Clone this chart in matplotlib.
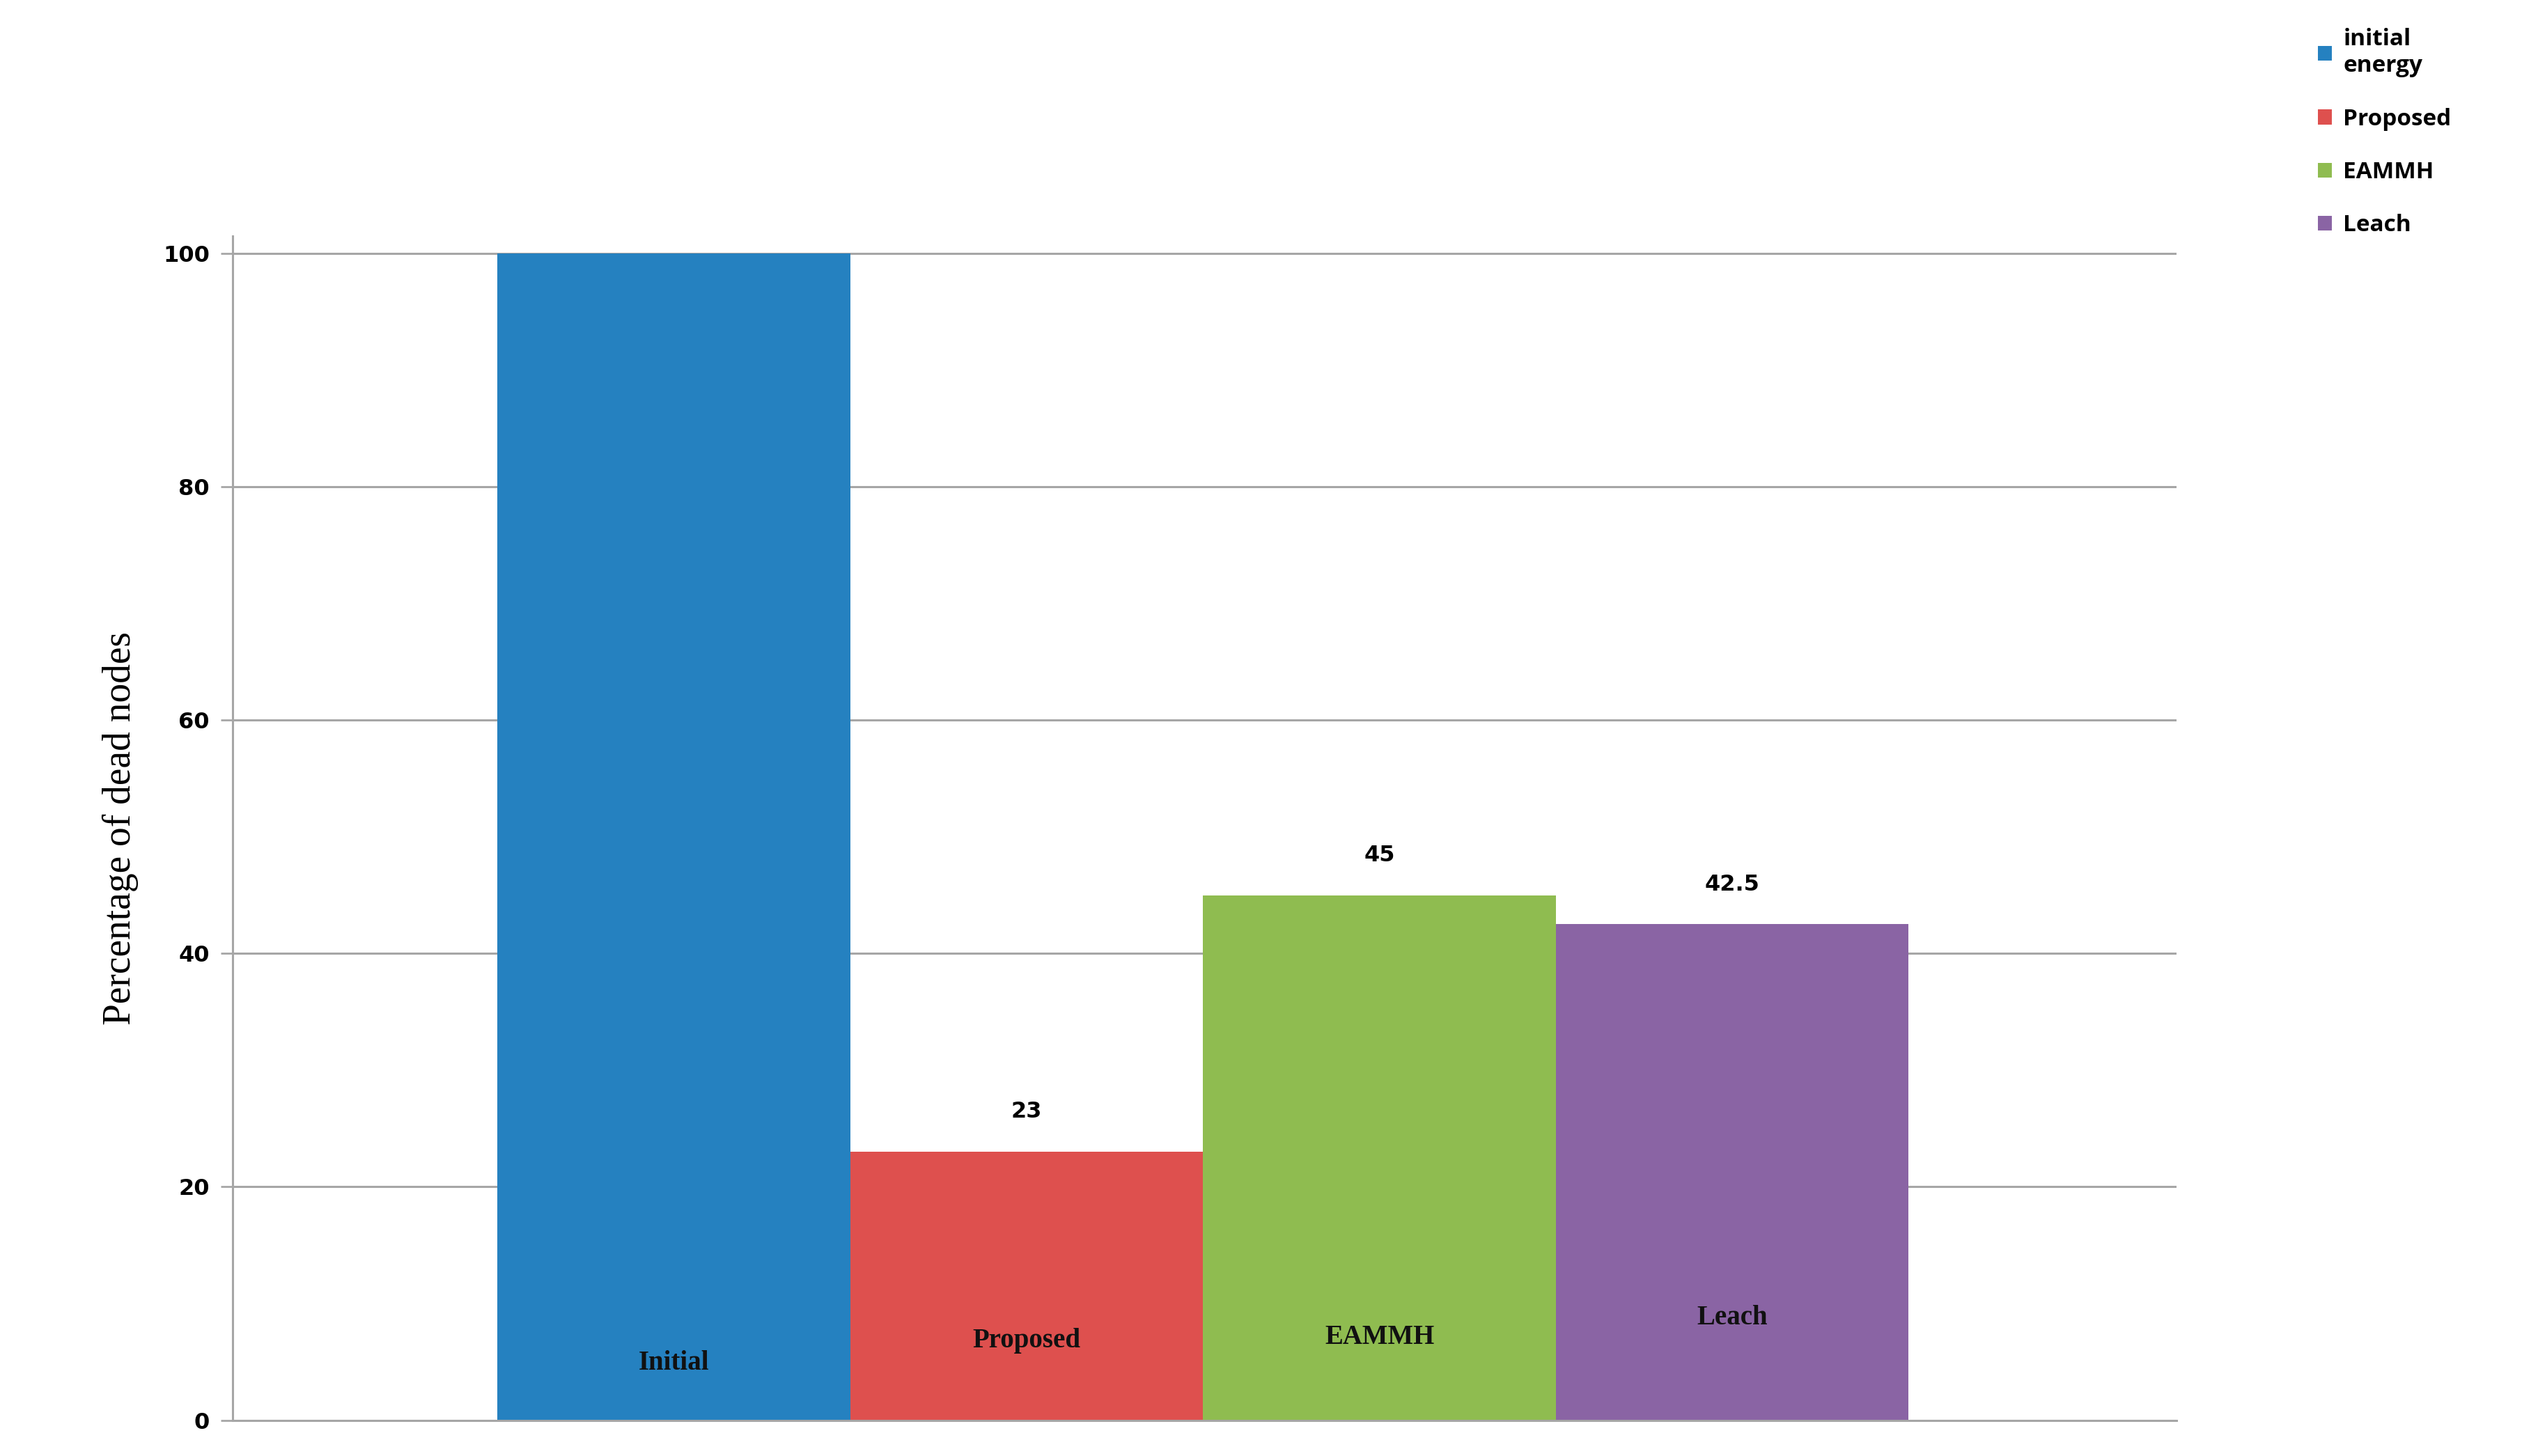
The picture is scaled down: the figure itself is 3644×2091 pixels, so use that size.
import matplotlib
matplotlib.use("Agg")
import matplotlib.pyplot as plt
from matplotlib.patches import Patch

categories = ["Initial", "Proposed", "EAMMH", "Leach"]
values = [100, 23, 45, 42.5]
value_labels = [None, "23", "45", "42.5"]
legend_names = ["initial\nenergy", "Proposed", "EAMMH", "Leach"]
colors = ["#2581c0", "#de504e", "#8fbc50", "#8a64a4"]
inner_label_y = [4.9, 6.8, 7.1, 8.8]
yticks = [0, 20, 40, 60, 80, 100]

fig = plt.figure(figsize=(36.44, 20.91), dpi=100)
ax = fig.add_axes([0.0917, 0.0246, 0.7660, 0.8134])
x = list(range(len(categories)))
ax.bar(x, values, width=1.0, color=colors, zorder=2)
ax.set_xlim(-1.25, 4.26)
ax.set_ylim(0, 101.5)
ax.set_yticks(yticks)
ax.set_yticklabels([str(t) for t in yticks], fontsize=23, fontweight="bold")
ax.set_xticks([])
ax.yaxis.grid(True, color="#a6a6a6", linewidth=2.2, zorder=0)
for s in ["top", "right"]:
    ax.spines[s].set_visible(False)
ax.spines["left"].set_color("#a6a6a6"); ax.spines["left"].set_linewidth(2.2)
ax.spines["bottom"].set_color("#a6a6a6"); ax.spines["bottom"].set_linewidth(2.2)
ax.tick_params(axis="y", length=12, width=2, color="#a6a6a6", pad=12)
ax.set_ylabel("Percentage of dead nodes", fontsize=40, family="Liberation Serif", labelpad=25)

for xi, v, lab, cat, iy in zip(x, values, value_labels, categories, inner_label_y):
    if lab:
        ax.text(xi, v + 2.5, lab, ha="center", va="bottom", fontsize=23, fontweight="bold")
    ax.text(xi, iy, cat, ha="center", va="center", fontsize=28, fontweight="bold",
            family="Liberation Serif", color="#111111")

handles = [Patch(facecolor=c) for c in colors]
fig.legend(handles, legend_names, loc="upper left", bbox_to_anchor=(0.905, 0.995),
           frameon=False, prop={"size": 24, "family": "Open Sans", "weight": "bold"},
           handlelength=0.6, handleheight=0.6, handletextpad=0.5, labelspacing=1.3)
fig.savefig("out.png", dpi=100)
